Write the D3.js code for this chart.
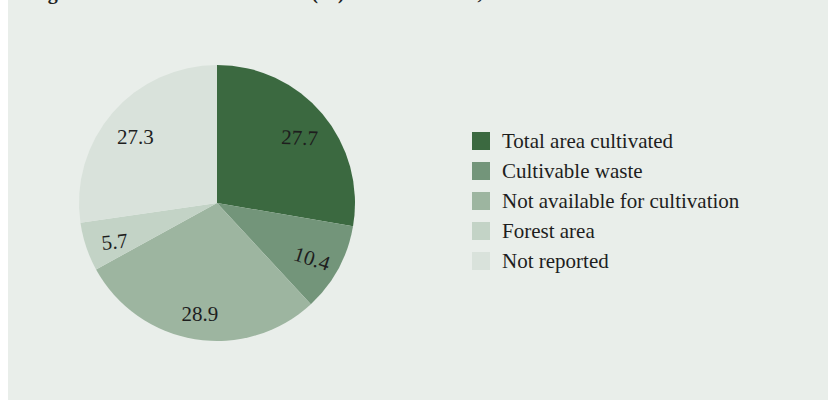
<!DOCTYPE html>
<html>
<head>
<meta charset="utf-8">
<script src="https://cdn.jsdelivr.net/npm/d3@7/dist/d3.min.js"></script>
<style>
  html, body { margin: 0; padding: 0; background: #ffffff; }
  svg { display: block; }
</style>
</head>
<body>
<svg id="chart" width="828" height="401"></svg>
<script>
// Land use shares (%)
const categories = [
  "Total area cultivated",
  "Cultivable waste",
  "Not available for cultivation",
  "Forest area",
  "Not reported"
];
const values = [27.7, 10.4, 28.9, 5.7, 27.3];
const labelTexts = ["27.7", "10.4", "28.9", "5.7", "27.3"];
const labelRotation = [2, 18, 0, -6, 0];
const colors = ["#3b6940", "#73957a", "#9db5a0", "#c3d3c6", "#d9e2db"];
const titleText = "Figure 2: Land use classification (%) of all land area, 2010–11";

const svg = d3.select("#chart");
const W = 828, H = 401;

// panel background
svg.append("rect")
  .attr("x", 8).attr("y", 0)
  .attr("width", W - 8).attr("height", 400)
  .attr("fill", "#e9eeea");

// title (sits above the panel top edge)
svg.append("text")
  .attr("x", 30).attr("y", -1)
  .attr("font-family", "Liberation Serif, serif")
  .attr("font-weight", "bold")
  .attr("font-size", 20)
  .attr("fill", "#222")
  .text(titleText);

const cx = 217, cy = 203, R = 138;
const data = categories.map((c, i) => ({ cat: c, value: values[i], label: labelTexts[i], rot: labelRotation[i] }));

const pie = d3.pie().value(d => d.value).sort(null);
const arc = d3.arc().innerRadius(0).outerRadius(R);
const labelArc = d3.arc().innerRadius(108).outerRadius(108);
const color = d3.scaleOrdinal().domain(categories).range(colors);

const g = svg.append("g").attr("transform", `translate(${cx},${cy})`);
const arcs = pie(data);

g.selectAll("path.slice")
  .data(arcs)
  .join("path")
  .attr("class", "slice")
  .attr("d", arc)
  .attr("fill", d => color(d.data.cat));

g.selectAll("text.val")
  .data(arcs)
  .join("text")
  .attr("class", "val")
  .attr("transform", d => {
    const [x, y] = labelArc.centroid(d);
    return `translate(${x},${y + 4}) rotate(${d.data.rot})`;
  })
  .attr("text-anchor", "middle")
  .attr("dy", "0.35em")
  .attr("font-family", "Liberation Serif, serif")
  .attr("font-size", 21)
  .attr("fill", "#1e1e1e")
  .text(d => d.data.label);

// legend
const legend = svg.append("g").attr("transform", "translate(472,132)");
const rows = legend.selectAll("g.row")
  .data(categories)
  .join("g")
  .attr("class", "row")
  .attr("transform", (d, i) => `translate(0,${i * 30})`);
rows.append("rect")
  .attr("width", 18).attr("height", 18)
  .attr("fill", d => color(d));
rows.append("text")
  .attr("x", 30).attr("y", 16)
  .attr("font-family", "Liberation Serif, serif")
  .attr("font-size", 21)
  .attr("fill", "#1e1e1e")
  .text(d => d);
</script>
</body>
</html>
